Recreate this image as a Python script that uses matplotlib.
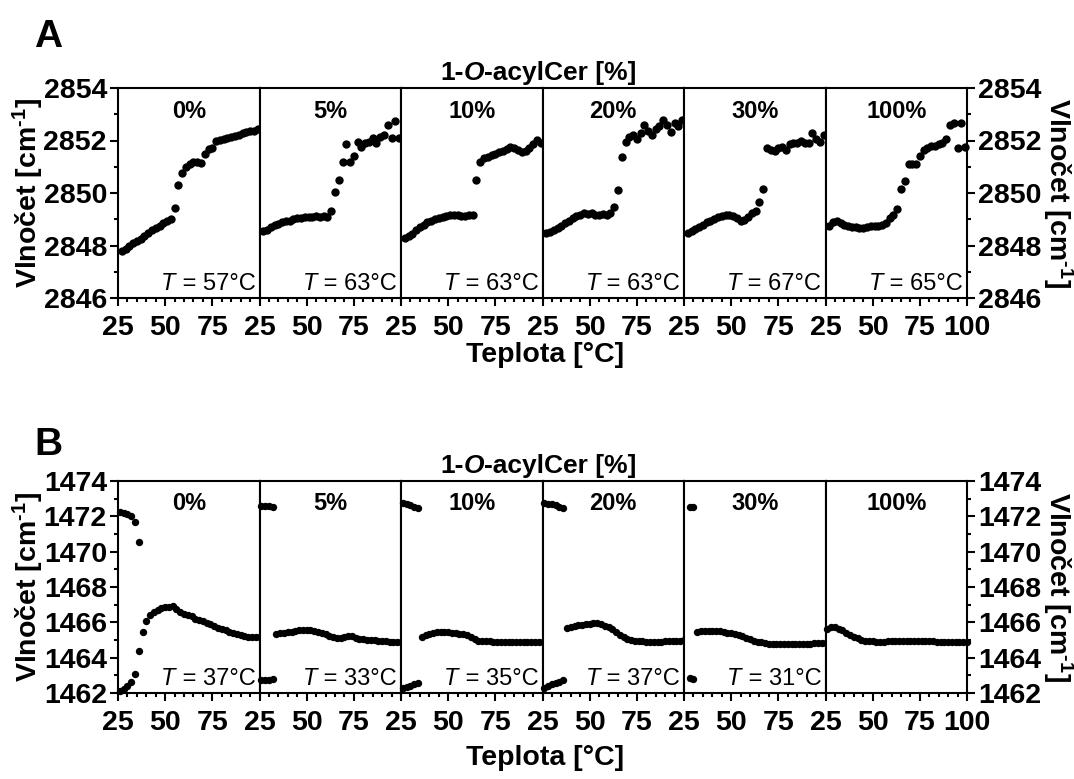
from matplotlib import pyplot as P
from matplotlib.ticker import MultipleLocator

P.rcParams['font.family'] = 'Liberation Sans'
P.rcParams['font.weight'] = 'bold'
P.rcParams['mathtext.fontset'] = 'custom'
P.rcParams['mathtext.rm'] = 'Liberation Sans:bold'
P.rcParams['mathtext.it'] = 'Liberation Sans:italic:bold'
P.rcParams['mathtext.bf'] = 'Liberation Sans:bold'

# 1-O-acylCer content of the six panels
concentrations = ["0%", "5%", "10%", "20%", "30%", "100%"]

# A: CH2 symmetric stretching vs temperature
temp_a = [27, 29, 31, 33, 35, 37, 39, 41, 43, 45, 47, 49, 51, 53, 55, 57, 59, 61, 63,
          65, 67, 69, 71, 73, 75, 77, 79, 81, 83, 85, 87, 89, 91, 93, 95, 97, 99]
stretch_0 = [2847.78, 2847.85, 2847.97, 2848.08, 2848.18, 2848.25, 2848.35, 2848.48, 2848.58,
             2848.67, 2848.76, 2848.85, 2848.92, 2849.0, 2849.42, 2850.3, 2850.78, 2850.98,
             2851.1, 2851.18, 2851.18, 2851.15, 2851.5, 2851.68, 2851.72, 2852.0, 2852.02,
             2852.06, 2852.1, 2852.14, 2852.18, 2852.22, 2852.27, 2852.31, 2852.35, 2852.38,
             2852.42]
stretch_5 = [2848.55, 2848.6, 2848.7, 2848.78, 2848.83, 2848.88, 2848.92, 2848.95, 2849.0,
             2849.03, 2849.06, 2849.08, 2849.1, 2849.1, 2849.12, 2849.1, 2849.12, 2849.1,
             2849.3, 2850.05, 2850.5, 2851.2, 2851.85, 2851.2, 2851.4, 2851.95, 2851.75,
             2851.92, 2851.95, 2852.08, 2851.92, 2852.15, 2852.2, 2852.6, 2852.1, 2852.75,
             2852.1]
stretch_10 = [2848.3, 2848.35, 2848.45, 2848.58, 2848.7, 2848.8, 2848.88, 2848.95, 2849.0,
              2849.05, 2849.1, 2849.13, 2849.15, 2849.15, 2849.15, 2849.14, 2849.14, 2849.15,
              2849.18, 2850.5, 2851.2, 2851.32, 2851.38, 2851.45, 2851.5, 2851.55, 2851.6,
              2851.68, 2851.74, 2851.7, 2851.65, 2851.58, 2851.6, 2851.7, 2851.85, 2852.02,
              2851.92]
stretch_20 = [2848.46, 2848.52, 2848.6, 2848.66, 2848.75, 2848.85, 2848.95, 2849.05, 2849.12,
              2849.18, 2849.22, 2849.2, 2849.22, 2849.18, 2849.15, 2849.2, 2849.18, 2849.22,
              2849.45, 2850.1, 2851.38, 2851.95, 2852.12, 2852.2, 2852.05, 2852.3, 2852.6,
              2852.35, 2852.2, 2852.45, 2852.55, 2852.8, 2852.6, 2852.32, 2852.65, 2852.55,
              2852.78]
stretch_30 = [2848.48, 2848.55, 2848.63, 2848.7, 2848.8, 2848.88, 2848.95, 2849.02, 2849.08,
              2849.12, 2849.15, 2849.15, 2849.12, 2849.05, 2848.95, 2848.98, 2849.1, 2849.22,
              2849.3, 2849.65, 2850.15, 2851.7, 2851.62, 2851.6, 2851.7, 2851.75, 2851.65,
              2851.85, 2851.9, 2851.92, 2851.98, 2851.9, 2851.92, 2852.3, 2852.05, 2851.95,
              2852.2]
stretch_100 = [2848.75, 2848.88, 2848.92, 2848.85, 2848.78, 2848.75, 2848.72, 2848.7, 2848.68,
               2848.66, 2848.7, 2848.75, 2848.76, 2848.74, 2848.77, 2848.85, 2849.05, 2849.15,
               2849.4, 2850.15, 2850.45, 2851.12, 2851.1, 2851.1, 2851.4, 2851.62, 2851.7,
               2851.78, 2851.8, 2851.85, 2851.92, 2852.05, 2852.6, 2852.68, 2851.7, 2852.65,
               2851.75]
onset_a = ["57", "63", "63", "63", "67", "65"]

# B: CH2 scissoring vs temperature
temp_b = [26, 28, 30, 32, 34, 36, 38, 40, 42, 44, 46, 48, 50, 52, 54, 56, 58, 60, 62,
          64, 66, 68, 70, 72, 74, 76, 78, 80, 82, 84, 86, 88, 90, 92, 94, 96, 98, 100]
# low temperature doublet (orthorhombic split), upper and lower component
split_temp = [[26, 28, 30, 32, 34, 36], [26, 28, 30, 32], [26, 28, 30, 32, 34],
              [26, 28, 30, 32, 34, 36], [28, 30], []]
split_hi = [[1472.22, 1472.18, 1472.12, 1472.0, 1471.68, 1470.56],
            [1472.6, 1472.6, 1472.58, 1472.55],
            [1472.75, 1472.7, 1472.62, 1472.55, 1472.45],
            [1472.75, 1472.72, 1472.68, 1472.62, 1472.55, 1472.45],
            [1472.55, 1472.55], []]
split_lo = [[1462.1, 1462.22, 1462.38, 1462.62, 1463.1, 1464.37],
            [1462.75, 1462.75, 1462.75, 1462.78],
            [1462.27, 1462.35, 1462.42, 1462.5, 1462.57],
            [1462.3, 1462.4, 1462.5, 1462.58, 1462.64, 1462.72],
            [1462.85, 1462.82], []]
# single band, first temperature where it is seen
main_start = [38, 34, 36, 38, 32, 26]
scissor_0 = [1465.45, 1466.05, 1466.4, 1466.6, 1466.72, 1466.8, 1466.85, 1466.88, 1466.9,
             1466.75, 1466.6, 1466.5, 1466.42, 1466.35, 1466.2, 1466.12, 1466.05, 1465.98,
             1465.92, 1465.8, 1465.7, 1465.62, 1465.55, 1465.45, 1465.38, 1465.32, 1465.28,
             1465.22, 1465.18, 1465.15, 1465.15, 1465.15]
scissor_5 = [1465.35, 1465.38, 1465.42, 1465.45, 1465.48, 1465.5, 1465.55, 1465.57, 1465.57,
             1465.55, 1465.52, 1465.48, 1465.42, 1465.35, 1465.25, 1465.15, 1465.1, 1465.12,
             1465.18, 1465.22, 1465.2, 1465.12, 1465.06, 1465.05, 1465.02, 1465.0, 1464.98,
             1464.95, 1464.95, 1464.92, 1464.9, 1464.88, 1464.88, 1464.86]
scissor_10 = [1465.15, 1465.28, 1465.36, 1465.42, 1465.45, 1465.47, 1465.47, 1465.45, 1465.42,
              1465.4, 1465.36, 1465.32, 1465.28, 1465.18, 1465.05, 1464.96, 1464.93, 1464.92,
              1464.92, 1464.9, 1464.9, 1464.9, 1464.91, 1464.9, 1464.9, 1464.89, 1464.9,
              1464.89, 1464.88, 1464.88, 1464.88, 1464.87, 1464.87]
scissor_20 = [1465.7, 1465.75, 1465.8, 1465.83, 1465.86, 1465.9, 1465.92, 1465.94, 1465.94,
              1465.9, 1465.82, 1465.72, 1465.6, 1465.45, 1465.3, 1465.15, 1465.05, 1465.0,
              1464.96, 1464.93, 1464.92, 1464.9, 1464.9, 1464.9, 1464.9, 1464.91, 1464.92,
              1464.92, 1464.94, 1464.95, 1464.96, 1464.98]
scissor_30 = [1465.47, 1465.5, 1465.52, 1465.53, 1465.53, 1465.52, 1465.5, 1465.46, 1465.42,
              1465.38, 1465.33, 1465.27, 1465.2, 1465.12, 1465.04, 1464.96, 1464.9, 1464.86,
              1464.82, 1464.8, 1464.79, 1464.78, 1464.78, 1464.77, 1464.77, 1464.78, 1464.78,
              1464.79, 1464.8, 1464.8, 1464.8, 1464.81, 1464.81, 1464.81, 1464.82]
scissor_100 = [1465.6, 1465.72, 1465.75, 1465.65, 1465.55, 1465.42, 1465.3, 1465.18, 1465.1,
               1465.02, 1464.97, 1464.93, 1464.92, 1464.9, 1464.9, 1464.9, 1464.92, 1464.93,
               1464.94, 1464.95, 1464.96, 1464.97, 1464.96, 1464.95, 1464.95, 1464.94, 1464.93,
               1464.92, 1464.92, 1464.91, 1464.91, 1464.9, 1464.9, 1464.9, 1464.89, 1464.89,
               1464.88, 1464.88]
onset_b = ["37", "33", "35", "37", "31", None]

stretch = [stretch_0, stretch_5, stretch_10, stretch_20, stretch_30, stretch_100]
scissor = [scissor_0, scissor_5, scissor_10, scissor_20, scissor_30, scissor_100]

W, H = 1074, 779
fig = P.figure(figsize=(W / 100, H / 100), dpi=100)


def fx(x):
    return x / W


def fy(y):
    return 1.0 - y / H


X0, X1 = 118, 967
PW = (X1 - X0) / 6.0
YLABEL = "Vlno\u010det [cm$^{\\text{-}1}$]"
BIG = 20.5


def make_row(top, bottom, ylim, xlabel_y):
    axes = []
    for i in range(6):
        ax = fig.add_axes([fx(X0 + i * PW), fy(bottom), PW / W, (bottom - top) / H])
        ax.set_xlim(25, 100)
        ax.set_ylim(*ylim)
        for sp in ax.spines.values():
            sp.set_linewidth(1.5)
        ax.set_xticks([25, 50, 75, 100] if i == 5 else [25, 50, 75])
        ax.xaxis.set_minor_locator(MultipleLocator(5))
        ax.yaxis.set_major_locator(MultipleLocator(2))
        ax.yaxis.set_minor_locator(MultipleLocator(1))
        ax.tick_params(which='major', length=6, width=1.5, labelsize=BIG, pad=2)
        ax.tick_params(which='minor', length=3, width=1.5)
        ax.tick_params(axis='x', which='major', pad=6)
        if i == 0:
            ax.tick_params(axis='y', which='both', left=True, right=False, labelleft=True)
        elif i == 5:
            ax.tick_params(axis='y', which='both', left=False, right=True,
                           labelleft=False, labelright=True)
        else:
            ax.tick_params(axis='y', which='both', left=False, labelleft=False)
        ax.text(0.5, 1 - 29.5 / (bottom - top), concentrations[i], transform=ax.transAxes,
                ha='center', va='baseline', fontsize=17)
        axes.append(ax)
    mid = (top + bottom) / 2.0
    fig.text(fx(28), fy(mid), YLABEL, rotation=90, ha='center', va='center', fontsize=BIG)
    fig.text(fx(1058), fy(mid), YLABEL, rotation=270, ha='center', va='center', fontsize=BIG)
    # title "1-O-acylCer [%]" with an italic O, pieces chained left to right
    t1 = fig.text(fx(440), fy(top - 8), "1-", ha='left', va='baseline', fontsize=19)
    t2 = fig.text(0, 0, "O", style='italic', fontsize=19, ha='left', va='baseline')
    t2.set_transform(fig.transFigure)
    a2 = fig.add_artist(P.Annotation("O", xy=(1, 0), xycoords=t1, ha='left', va='bottom',
                                     fontsize=19, style='italic'))
    t2.remove()
    fig.add_artist(P.Annotation("-acylCer [%]", xy=(1, 0), xycoords=a2, ha='left',
                                va='bottom', fontsize=19))
    fig.text(fx(545), fy(xlabel_y), "Teplota [\u00b0C]", ha='center', va='center',
             fontsize=BIG)
    return axes


def onset_label(ax, value, height):
    if value is None:
        return
    y = 8.0 / height
    t = ax.text(0.97, y, " = " + value + "\u00b0C", transform=ax.transAxes, ha='right',
                va='baseline', fontsize=17, fontweight='normal')
    ax.annotate("T", xy=(0, 0), xycoords=t, ha='right', va='bottom', fontsize=17,
                fontweight='normal', style='italic')


# Panel A
top_axes = make_row(88, 298, (2846, 2854), 355)
for i, ax in enumerate(top_axes):
    ax.plot(temp_a, stretch[i], 'o', color='k', ms=6.0, mew=0, clip_on=False, zorder=3)
    onset_label(ax, onset_a[i], 210.0)

# Panel B
bottom_axes = make_row(481, 693, (1462, 1474), 758)
for i, ax in enumerate(bottom_axes):
    t_main = temp_b[temp_b.index(main_start[i]):]
    ax.plot(t_main, scissor[i], 'o', color='k', ms=5.3, mew=0, clip_on=False, zorder=3)
    ax.plot(split_temp[i], split_hi[i], 'o', color='k', ms=5.3, mew=0, clip_on=False, zorder=3)
    ax.plot(split_temp[i], split_lo[i], 'o', color='k', ms=5.3, mew=0, clip_on=False, zorder=3)
    onset_label(ax, onset_b[i], 212.0)

fig.text(fx(34), fy(47), "A", fontsize=28, ha='left', va='baseline')
fig.text(fx(34), fy(455), "B", fontsize=28, ha='left', va='baseline')

P.savefig("out.png", dpi=100)
